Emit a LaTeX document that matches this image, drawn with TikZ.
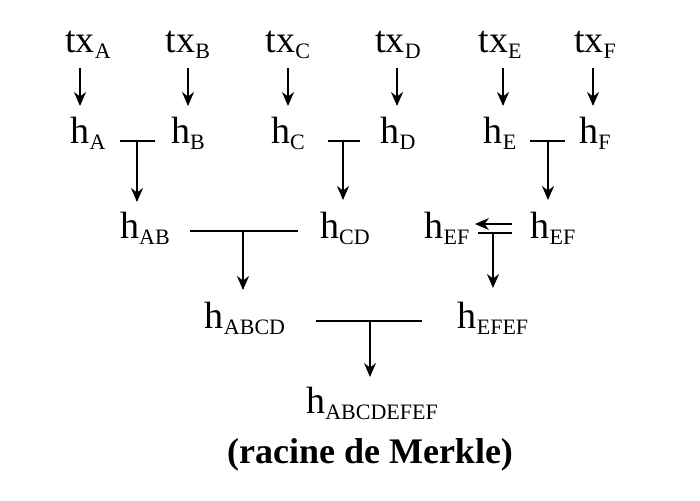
\documentclass[tikz,border=0pt]{standalone}
\usepackage{fontspec}
\setmainfont{Liberation Serif}
\usetikzlibrary{arrows.meta}
\newcommand{\sbs}[1]{\raisebox{-0.35ex}{\fontsize{11}{12}\selectfont #1}}
\begin{document}
\begin{tikzpicture}[x=0.5pt,y=-0.5pt,
  lbl/.style={inner sep=0pt,font=\fontsize{19}{22}\selectfont},
  arr/.style={line width=0.8pt,-{Stealth[length=7pt,width=6pt]}},
  ln/.style={line width=0.8pt}]
\useasboundingbox (0,0) rectangle (700,500);
\foreach \n/\x in {A/88,B/188,C/288,D/398,E/500,F/595}{
  \node[lbl] (tx\n) at (\x,45) {tx\sbs{\n}};
  \node[lbl] (h\n) at (\x,133) {h\sbs{\n}};
}
\foreach \n/\x in {A/80,B/188,C/288,D/397,E/503,F/593}{
  \coordinate (s\n) at (\x,68); \coordinate (e\n) at (\x,106);
  \draw[arr] (s\n) -- (e\n);
}
\node[lbl] (hAB) at (145,228) {h\sbs{AB}};
\node[lbl] (hCD) at (345,228) {h\sbs{CD}};
\node[lbl] (hEFl) at (447,228) {h\sbs{EF}};
\node[lbl] (hEFr) at (553,228) {h\sbs{EF}};
\node[lbl] (hABCD) at (245,318) {h\sbs{ABCD}};
\node[lbl] (hEFEF) at (493,318) {h\sbs{EFEF}};
\node[lbl] (root) at (372,403) {h\sbs{ABCDEFEF}};
\node[lbl,font=\fontsize{18}{20}\selectfont\bfseries] (lab) at (370,455) {(racine de Merkle)};
% level 1
\coordinate (a1) at (120,141); \coordinate (a2) at (155,141);
\coordinate (a3) at (137,141); \coordinate (a4) at (137,202);
\draw[ln] (a1) -- (a2); \draw[arr] (a3) -- (a4);
\coordinate (c1) at (328,141); \coordinate (c2) at (360,141);
\coordinate (c3) at (343,141); \coordinate (c4) at (343,200);
\draw[ln] (c1) -- (c2); \draw[arr] (c3) -- (c4);
\coordinate (f1) at (530,141); \coordinate (f2) at (565,141);
\coordinate (f3) at (548,141); \coordinate (f4) at (548,200);
\draw[ln] (f1) -- (f2); \draw[arr] (f3) -- (f4);
% level 2
\coordinate (b1) at (190,231); \coordinate (b2) at (298,231);
\coordinate (b3) at (243,231); \coordinate (b4) at (243,290);
\draw[ln] (b1) -- (b2); \draw[arr] (b3) -- (b4);
\coordinate (g0) at (512,224); \coordinate (g00) at (475,224);
\draw[arr] (g0) -- (g00);
\coordinate (g1) at (478,233); \coordinate (g2) at (512,233);
\coordinate (g3) at (493,233); \coordinate (g4) at (493,288);
\draw[ln] (g1) -- (g2); \draw[arr] (g3) -- (g4);
% level 3
\coordinate (r1) at (316,321); \coordinate (r2) at (422,321);
\coordinate (r3) at (370,321); \coordinate (r4) at (370,377);
\draw[ln] (r1) -- (r2); \draw[arr] (r3) -- (r4);
\end{tikzpicture}
\end{document}
